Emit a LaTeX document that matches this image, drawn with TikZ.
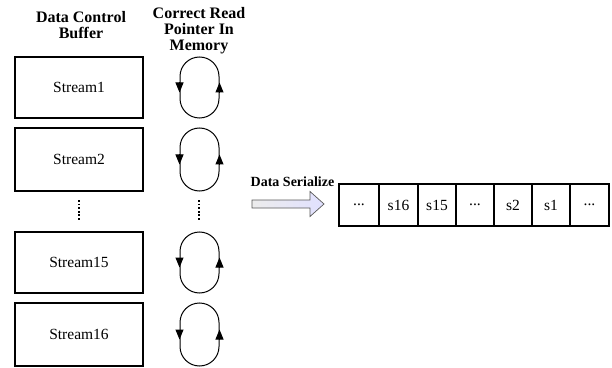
\documentclass[tikz,border=0pt]{standalone}
\usepackage{fontspec}
\setmainfont{Liberation Serif}
\usetikzlibrary{arrows.meta}
\newcommand\mytdots{...}
\begin{document}
\begin{tikzpicture}[x=1pt,y=1pt,
  buf/.style={draw,line width=1.2pt,minimum width=128pt,minimum height=61pt,inner sep=0pt,font=\fontsize{15.5}{17}\selectfont},
  loopbox/.style={draw,line width=1pt,rounded corners=19.5pt,minimum width=39pt,minimum height=61pt,inner sep=0pt},
  ttl/.style={font=\fontsize{16}{16}\selectfont\bfseries,align=center,inner sep=0pt},
  cell/.style={draw,line width=1.2pt,minimum height=42pt,inner sep=0pt,font=\fontsize{15.5}{17}\selectfont},
  tip/.style={-{Triangle[width=8pt,length=10pt]},line width=1pt},
  dots/.style={line width=1.8pt,dash pattern=on 1.8pt off 1.8pt}
]
\useasboundingbox (0,0) rectangle (612,367);
\node[ttl] (t1) at (81,342) {Data Control\\Buffer};
\node[ttl] (t2) at (199,336) {Correct Read\\Pointer In\\Memory};

\foreach \n/\y/\h in {1/279.5/61,2/207.5/63,15/104.5/61,16/32.5/63}{
  \node[buf,minimum height=\h pt] (b\n) at (79,\y) {Stream\n};
  \node[loopbox,minimum height=\h pt] (l\n) at (199.5,\y) {};
  \draw[tip] ([yshift=5pt]l\n.west) -- ([yshift=-5pt]l\n.west);
  \draw[tip] ([yshift=-5pt]l\n.east) -- ([yshift=5pt]l\n.east);
}
\coordinate (d1a) at (79,167); \coordinate (d1b) at (79,147);
\coordinate (d2a) at (199,167); \coordinate (d2b) at (199,147);
\draw[dots] (d1a) -- (d1b);
\draw[dots] (d2a) -- (d2b);

\node[font=\fontsize{14}{16}\selectfont\bfseries,inner sep=0pt] (ds) at (292.5,185) {Data Serialize};
\shade[left color=gray!15,right color=blue!12,draw=gray!70!black,line width=0.7pt]
  (252,159) -- (310,159) -- (310,150.5) -- (324,163) -- (310,175.5) -- (310,167) -- (252,167) -- cycle;

\foreach \i/\a/\b/\t in {1/339/379/\mytdots,2/379/418/s16,3/418/456/s15,4/456/494/\mytdots,5/494/532/s2,6/532/570/s1,7/570/609/\mytdots}{
  \pgfmathsetmacro\w{\b-\a}
  \node[cell,minimum width=\w pt] (c\i) at ({(\a+\b)/2},162) {\t};
}
\end{tikzpicture}
\end{document}
